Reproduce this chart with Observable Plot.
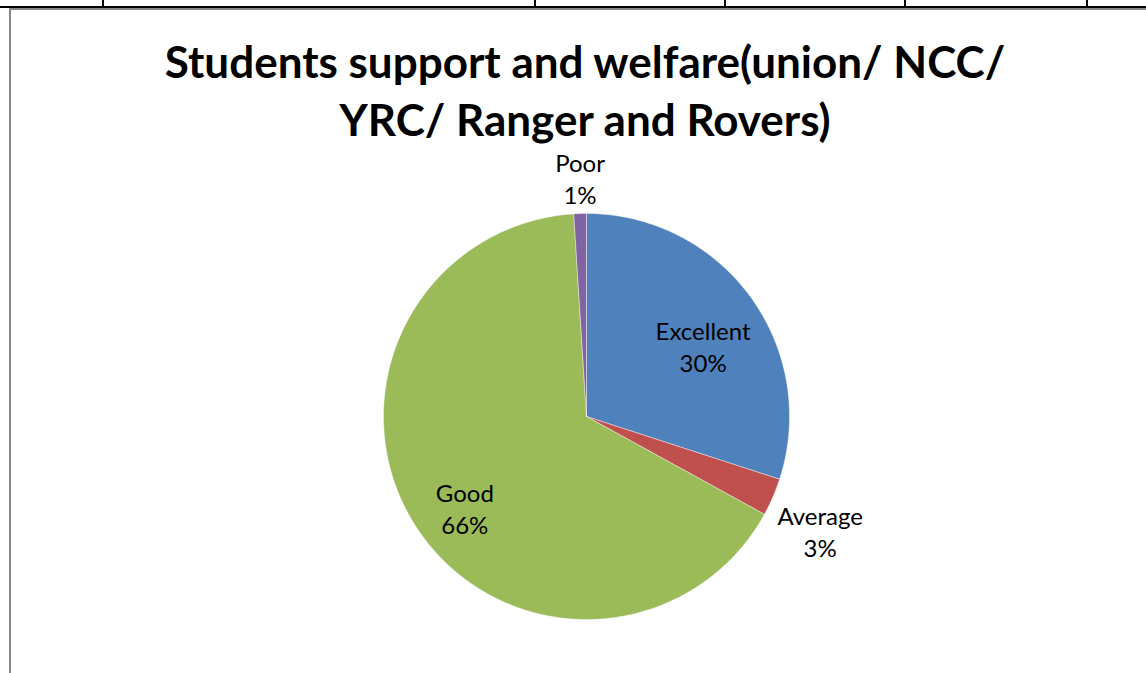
<!DOCTYPE html>
<html>
<head>
<meta charset="utf-8">
<script src="https://cdn.jsdelivr.net/npm/d3@7"></script>
<script src="https://cdn.jsdelivr.net/npm/@observablehq/plot@0.6"></script>
<style>
  html, body { margin: 0; padding: 0; background: #fff; }
  #page { position: relative; width: 1146px; height: 673px; overflow: hidden; background: #fff; }
  .tline { position: absolute; background: #000; }
  #frameTop { position: absolute; left: 9px; top: 8px; width: 1137px; height: 2px; background: #868686; }
  #frameLeft { position: absolute; left: 9px; top: 8px; width: 2px; height: 665px; background: #868686; }
  #title { position: absolute; left: 0; top: 32px; width: 1170px; margin: 0; text-align: center;
           font-family: Lato, "Open Sans", sans-serif; font-weight: 700; font-size: 44px; line-height: 58px; color: #000; }
  #chart { position: absolute; left: 0; top: 0; }
</style>
</head>
<body>
<div id="page">
  <div class="tline" style="left:0;top:6px;width:1146px;height:2px"></div>
  <div class="tline" style="left:102px;top:0;width:2px;height:7px"></div>
  <div class="tline" style="left:534px;top:0;width:2px;height:7px"></div>
  <div class="tline" style="left:724px;top:0;width:2px;height:7px"></div>
  <div class="tline" style="left:904px;top:0;width:2px;height:7px"></div>
  <div class="tline" style="left:1086px;top:0;width:2px;height:7px"></div>
  <div id="frameTop"></div>
  <div id="frameLeft"></div>
  <div id="chart"></div>
  <h2 id="title">Students support and welfare(union/ NCC/<br>YRC/ Ranger and Rovers)</h2>
</div>
<script>
// ---- data ----
const categories = ["Excellent", "Average", "Good", "Poor"];
const percents = [30, 3, 66, 1];
const colors = ["#4F81BD", "#C0504D", "#9BBB59", "#8064A2"];

// ---- layout ----
const W = 1146, H = 673;
const cx = 586, cy = 416, R = 203;
const labelFont = 24, labelLine = 32;

// pie angles (clockwise from 12 o'clock)
const total = d3.sum(percents);
let acc = 0;
const slices = categories.map((c, i) => {
  const a0 = acc / total * 2 * Math.PI;
  acc += percents[i];
  const a1 = acc / total * 2 * Math.PI;
  return {category: c, value: percents[i], a0, a1, mid: (a0 + a1) / 2};
});

// slice outline points in unit-circle coordinates (y up)
const pts = [];
for (const s of slices) {
  pts.push({category: s.category, x: 0, y: 0});
  const n = Math.max(2, Math.ceil((s.a1 - s.a0) / (Math.PI / 360)));
  for (let k = 0; k <= n; k++) {
    const a = s.a0 + (s.a1 - s.a0) * k / n;
    pts.push({category: s.category, x: Math.sin(a), y: Math.cos(a)});
  }
  pts.push({category: s.category, x: 0, y: 0});
}

// label placement (unit coordinates)
const ctx = document.createElement("canvas").getContext("2d");
ctx.font = `${labelFont}px Lato`;
const labels = slices.map(s => {
  const text = `${s.category}\n${Math.round(s.value / total * 100)}%`;
  const dx = Math.sin(s.mid), dy = Math.cos(s.mid);
  if (s.value / total >= 0.05) {
    const k = 0.71;
    return {text, x: k * dx, y: k * dy - 14 / R};
  }
  const w = Math.max(...text.split("\n").map(t => ctx.measureText(t).width));
  const hw = w / 2 + 1, hh = labelLine;
  const gap = 4;
  const px = (R + gap) * dx, py = (R + gap) * dy;
  const sx = Math.abs(dx) > 0.3 ? Math.sign(dx) : 0;
  const sy = Math.abs(dy) > 0.3 ? Math.sign(dy) : 0;
  return {text, x: (px + sx * hw) / R, y: (py + sy * hh) / R};
});

const chart = Plot.plot({
  width: W, height: H,
  margin: 0,
  style: {background: "transparent"},
  x: {domain: [-cx / R, (W - cx) / R], axis: null},
  y: {domain: [-(H - cy) / R, cy / R], axis: null},
  color: {domain: categories, range: colors},
  marks: [
    Plot.line(pts, {x: "x", y: "y", z: "category", fill: "category", stroke: "#fff", strokeWidth: 0.4, curve: "linear"}),
    Plot.text(labels, {x: "x", y: "y", text: "text", fontSize: labelFont, fontFamily: "Lato, 'Open Sans', sans-serif",
      fill: "#000", lineHeight: labelLine / labelFont, lineAnchor: "middle", textAnchor: "middle"})
  ]
});
document.getElementById("chart").appendChild(chart);
</script>
</body>
</html>
